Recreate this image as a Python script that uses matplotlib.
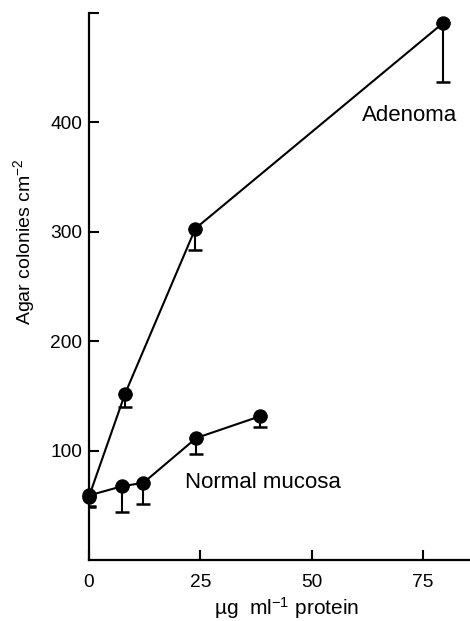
import matplotlib
matplotlib.use("Agg")
import matplotlib.pyplot as plt

plt.rcParams['font.family'] = ['Liberation Sans', 'DejaVu Sans']
plt.rcParams['mathtext.fontset'] = 'custom'
plt.rcParams['mathtext.rm'] = 'Liberation Sans'
plt.rcParams['mathtext.it'] = 'Liberation Sans:italic'
plt.rcParams['mathtext.bf'] = 'Liberation Sans:bold'

# Data
adenoma_x = [0, 8.1, 23.9, 79.6]
adenoma_y = [58, 152, 303, 491]
adenoma_err_low = [10, 12, 20, 54]

normal_x = [0, 7.5, 12.2, 24.1, 38.5]
normal_y = [59, 67.5, 70.5, 111.5, 131.5]
normal_err_low = [10, 23.5, 19.5, 15, 10]

x_ticks = [0, 25, 50, 75]
x_tick_labels = ['0', '25', '50', '75']
y_ticks = [100, 200, 300, 400, 500]
y_tick_labels = ['100', '200', '300', '400', '']

fig = plt.figure(figsize=(4.70, 6.21), dpi=100)
ax = fig.add_axes([89/470, 61/621, 1 - 89/470, 547/621])

lw = 1.5
for xs, ys, el in [(adenoma_x, adenoma_y, adenoma_err_low),
                   (normal_x, normal_y, normal_err_low)]:
    ax.errorbar(xs, ys, yerr=[el, [0]*len(el)], fmt='none', ecolor='black',
                elinewidth=lw, capsize=5, capthick=1.8, zorder=2)
    ax.plot(xs, ys, '-o', color='black', lw=lw, markersize=9.4,
            markerfacecolor='black', zorder=3, clip_on=False)

ax.set_xlim(0, 85.6)
ax.set_ylim(0, 500)
ax.spines['top'].set_visible(False)
ax.spines['right'].set_visible(False)
for s in ['left', 'bottom']:
    ax.spines[s].set_linewidth(1.6)

ax.set_xticks(x_ticks)
ax.set_xticklabels(x_tick_labels)
ax.set_yticks(y_ticks)
ax.set_yticklabels(y_tick_labels)
ax.tick_params(axis='both', direction='in', length=7.2, width=1.5,
               labelsize=13.8, colors='black')
ax.tick_params(axis='y', pad=5)
ax.tick_params(axis='x', pad=10)

ax.set_xlabel('\u00b5g  ml$^{-1}$ protein', fontsize=15)
ax.xaxis.set_label_coords((287 - 89) / 381, (560 - 615) / 547)
ax.xaxis.label.set_verticalalignment('baseline')
ax.set_ylabel(r'Agar colonies cm$^{-2}$', fontsize=14)
ax.yaxis.set_label_coords((30 - 89) / 381, (560 - 242) / 547)
ax.yaxis.label.set_verticalalignment('baseline')

ax.text(61.3, 401, 'Adenoma', fontsize=16, ha='left', va='baseline')
ax.text(21.6, 65.7, 'Normal mucosa', fontsize=16, ha='left', va='baseline')

fig.savefig('out.png', dpi=100)
